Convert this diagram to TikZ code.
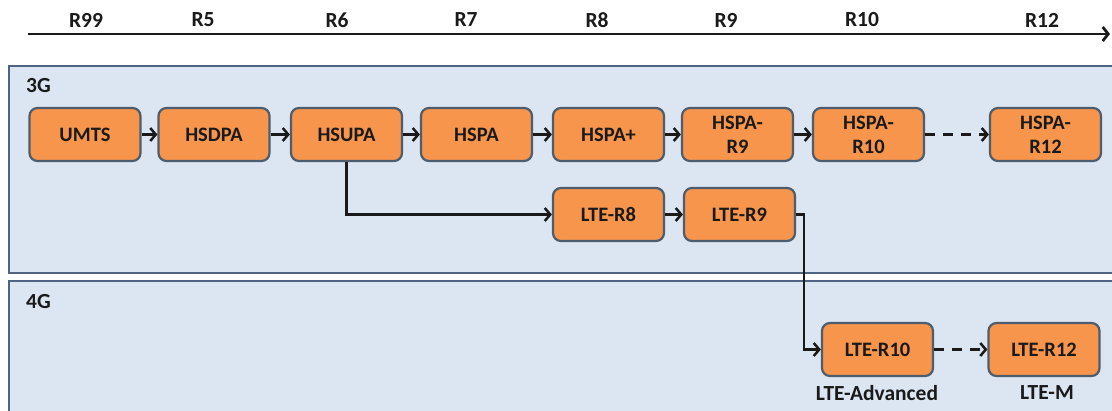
\documentclass[tikz,border=0pt]{standalone}
\usepackage{fontspec}
\setmainfont{Carlito}
\usetikzlibrary{arrows.meta}
\definecolor{panelfill}{HTML}{DCE6F2}
\definecolor{paneledge}{HTML}{4F6482}
\definecolor{boxfill}{HTML}{F6954B}
\definecolor{boxedge}{HTML}{4E5D6E}
\definecolor{txt}{HTML}{1A1A1A}
\tikzset{
  relbox/.style={rectangle, rounded corners=8pt, fill=boxfill, draw=boxedge, line width=2.2pt,
    minimum width=111pt, minimum height=53pt, align=center, inner sep=2pt, text=txt,
    font=\fontsize{20.5}{24}\selectfont\bfseries},
  lbl/.style={font=\fontsize{21.5}{24}\selectfont\bfseries, inner sep=1pt, text=txt},
  panel/.style={fill=panelfill, draw=paneledge, line width=2.2pt},
  arr/.style={line width=2.5pt, draw=txt, -{Straight Barb[length=5.5pt,width=13pt]}},
  darr/.style={arr, dash pattern=on 10pt off 8pt},
}
\begin{document}
\begin{tikzpicture}[x=1pt,y=-1pt]
\useasboundingbox (0,0) rectangle (1112,410);
\clip (0,0) rectangle (1112,410);
\fill[white] (0,0) rectangle (1112,410);
% timeline
\coordinate (t0) at (28,34);
\coordinate (t1) at (1110,34);
\draw[line width=2.8pt, draw=txt, -{Straight Barb[length=5.5pt,width=14pt]}] (t0) -- (t1);
\node[lbl] (r99) at (86,20) {R99};
\node[lbl] (r5) at (203,20) {R5};
\node[lbl] (r6) at (337,20) {R6};
\node[lbl] (r7) at (466,20) {R7};
\node[lbl] (r8) at (597,20) {R8};
\node[lbl] (r9) at (726,20) {R9};
\node[lbl] (r10) at (862,20) {R10};
\node[lbl] (r12) at (1042,20) {R12};
% panels
\draw[panel] (9,66) rectangle (1130,273);
\draw[panel] (9,281) rectangle (1130,430);
\node[lbl, anchor=west] (g3) at (25,86) {3G};
\node[lbl, anchor=west] (g4) at (25,302) {4G};
% row 1
\node[relbox] (umts) at (85,134.5) {UMTS};
\node[relbox] (hsdpa) at (214,134.5) {HSDPA};
\node[relbox] (hsupa) at (346.5,134.5) {HSUPA};
\node[relbox] (hspa) at (476.5,134.5) {HSPA};
\node[relbox] (hspap) at (608.5,134.5) {HSPA+};
\node[relbox] (hspa9) at (737.5,134.5) {HSPA-\\R9};
\node[relbox] (hspa10) at (868.5,134.5) {HSPA-\\R10};
\node[relbox] (hspa12) at (1045.5,134.5) {HSPA-\\R12};
% row 2
\node[relbox] (lte8) at (608.5,214.5) {LTE-R8};
\node[relbox] (lte9) at (739.5,214.5) {LTE-R9};
% row 3
\node[relbox] (lte10) at (877.5,349.5) {LTE-R10};
\node[relbox] (lte12) at (1044,349.5) {LTE-R12};
\node[lbl] (ltea) at (877,393) {LTE-Advanced};
\node[lbl] (ltem) at (1047,393) {LTE-M};
% connectors
\draw[arr] (umts) -- (hsdpa);
\draw[arr] (hsdpa) -- (hsupa);
\draw[arr] (hsupa) -- (hspa);
\draw[arr] (hspa) -- (hspap);
\draw[arr] (hspap) -- (hspa9);
\draw[arr] (hspa9) -- (hspa10);
\draw[darr] (hspa10) -- (hspa12);
\draw[arr] (hsupa.south) |- (lte8.west);
\draw[arr] (lte8) -- (lte9);
\draw[arr] (lte9.east) -- ++(8,0) |- (lte10.west);
\draw[darr] (lte10) -- (lte12);
\end{tikzpicture}
\end{document}
